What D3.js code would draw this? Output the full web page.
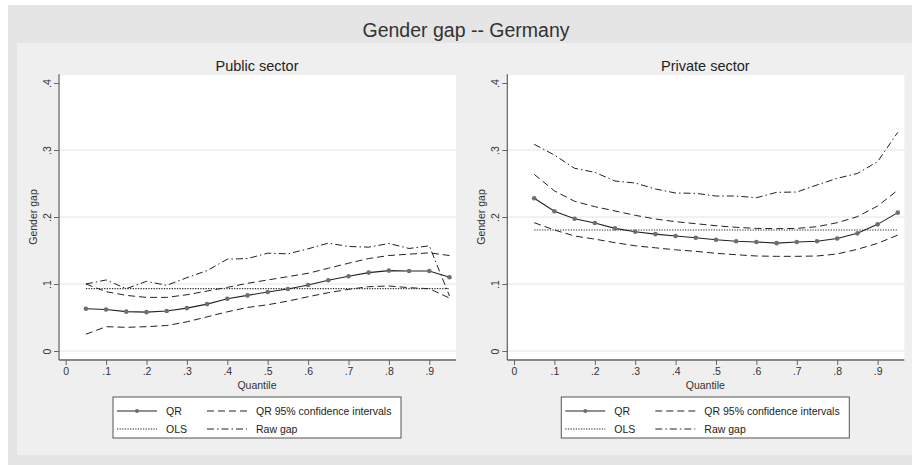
<!DOCTYPE html>
<html>
<head>
<meta charset="utf-8">
<script src="https://cdn.jsdelivr.net/npm/d3@7"></script>
<style>
  body { margin: 0; background: #fff; }
  svg { display: block; font-family: "Liberation Sans", Arial, sans-serif; }
</style>
</head>
<body>
<svg id="chart" width="912" height="465"></svg>
<script>
// quantiles .05 ... .95
const quantiles = [.05, .1, .15, .2, .25, .3, .35, .4, .45, .5, .55, .6, .65, .7, .75, .8, .85, .9, .95];
const xTicks = [0, .1, .2, .3, .4, .5, .6, .7, .8, .9];
const xTickLabels = ['0', '.1', '.2', '.3', '.4', '.5', '.6', '.7', '.8', '.9'];
const yTicks = [0, .1, .2, .3, .4];
const yTickLabels = ['0', '.1', '.2', '.3', '.4'];

// Public sector
const publicQR = [.063, .062, .0587, .058, .0597, .064, .070, .078, .083, .088, .0925, .0985, .1055, .1115, .117, .120, .1195, .1195, .110];
const publicUpper = [.100, .0885, .083, .080, .080, .084, .0895, .095, .101, .106, .111, .116, .1235, .131, .138, .1425, .1445, .1465, .1425];
const publicLower = [.025, .0363, .0353, .0363, .038, .0435, .051, .0585, .065, .069, .0745, .081, .087, .092, .096, .097, .0945, .093, .079];
const publicRaw = [.100, .106, .093, .104, .098, .1095, .120, .137, .138, .146, .145, .1525, .161, .156, .155, .1605, .153, .157, .082];
const publicOLS = .093;

// Private sector
const privateQR = [.228, .2085, .1975, .191, .183, .178, .1745, .1716, .169, .166, .1637, .1627, .161, .1627, .1637, .168, .1756, .189, .2065];
const privateUpper = [.2637, .239, .2234, .2154, .209, .2025, .197, .193, .190, .187, .1846, .183, .1826, .183, .1855, .1915, .2005, .2164, .240];
const privateLower = [.1915, .1806, .1716, .167, .1617, .157, .154, .151, .1488, .1458, .1437, .1418, .1413, .1413, .1418, .1448, .1518, .1607, .173];
const privateRaw = [.3085, .2925, .2727, .2667, .2537, .2507, .2418, .2358, .2353, .2313, .2313, .2288, .2368, .2373, .2478, .2577, .265, .2826, .3264];
const privateOLS = .1806;

const panels = [
  { title: 'Public sector', dx: 0, qr: publicQR, upper: publicUpper, lower: publicLower, raw: publicRaw, ols: publicOLS },
  { title: 'Private sector', dx: 448.3, qr: privateQR, upper: privateUpper, lower: privateLower, raw: privateRaw, ols: privateOLS }
];

const svg = d3.select('#chart');

// outer frame + inner graph region
svg.append('rect').attr('x', 8).attr('y', 5).attr('width', 904).attr('height', 460).attr('fill', '#e5e5e5');
svg.append('rect').attr('x', 17).attr('y', 43).attr('width', 895).attr('height', 412).attr('fill', '#efefef');

svg.append('text')
  .attr('x', 466).attr('y', 37)
  .attr('text-anchor', 'middle')
  .attr('font-size', '19.5px')
  .attr('fill', '#333')
  .text('Gender gap -- Germany');

const dashCI = '7,4';
const dashRaw = '7,3,1.5,3';
const dashOLS = '1.3,1.3';

panels.forEach(p => {
  const g = svg.append('g').attr('transform', `translate(${p.dx},0)`);
  const x = d3.scaleLinear().domain([0, 1]).range([65.7, 469.7]);
  const y = d3.scaleLinear().domain([0, .4]).range([351, 83]);

  g.append('rect').attr('x', 58).attr('y', 75).attr('width', 398).attr('height', 284).attr('fill', '#fff');

  g.append('text')
    .attr('x', 257).attr('y', 71)
    .attr('text-anchor', 'middle')
    .attr('font-size', '14.5px')
    .attr('fill', '#222')
    .text(p.title);

  // gridlines
  g.append('g').selectAll('line')
    .data(yTicks.filter(d => d < .4))
    .join('line')
    .attr('x1', 59).attr('x2', 456)
    .attr('y1', d => y(d)).attr('y2', d => y(d))
    .attr('stroke', '#e4e4e4').attr('stroke-width', 1);

  // y axis
  const yAxis = g.append('g')
    .attr('transform', 'translate(59,0)')
    .call(d3.axisLeft(y).tickValues(yTicks).tickFormat((d, i) => yTickLabels[i]).tickSize(5).tickSizeOuter(0));
  yAxis.select('.domain').attr('stroke', '#666').attr('stroke-width', 1.3)
    .attr('d', `M0,${y(.413)}V360`);
  yAxis.selectAll('.tick line').attr('stroke', '#666');
  yAxis.selectAll('.tick text')
    .attr('font-size', '10.5px')
    .attr('fill', '#333')
    .attr('font-family', '"Liberation Sans", Arial, sans-serif')
    .attr('text-anchor', 'middle')
    .attr('x', 0).attr('dy', 0)
    .attr('transform', 'translate(-8,0) rotate(-90)');

  g.append('text')
    .attr('transform', `translate(37,${y(.2)}) rotate(-90)`)
    .attr('text-anchor', 'middle')
    .attr('font-size', '10.5px')
    .attr('fill', '#333')
    .text('Gender gap');

  // x axis
  const xAxis = g.append('g')
    .attr('transform', 'translate(0,360)')
    .call(d3.axisBottom(x).tickValues(xTicks).tickFormat((d, i) => xTickLabels[i]).tickSize(5).tickSizeOuter(0));
  xAxis.select('.domain').attr('stroke', '#666').attr('stroke-width', 1.3)
    .attr('d', 'M59,0H456');
  xAxis.selectAll('.tick line').attr('stroke', '#666');
  xAxis.selectAll('.tick text')
    .attr('font-size', '10.5px')
    .attr('fill', '#333')
    .attr('font-family', '"Liberation Sans", Arial, sans-serif')
    .attr('y', 8);

  g.append('text')
    .attr('x', 257).attr('y', 389)
    .attr('text-anchor', 'middle')
    .attr('font-size', '10.5px')
    .attr('fill', '#333')
    .text('Quantile');

  const line = d3.line().x((d, i) => x(quantiles[i])).y(d => y(d));

  g.append('path').attr('d', line(p.upper)).attr('fill', 'none').attr('stroke', '#222').attr('stroke-width', 1).attr('stroke-dasharray', dashCI);
  g.append('path').attr('d', line(p.lower)).attr('fill', 'none').attr('stroke', '#222').attr('stroke-width', 1).attr('stroke-dasharray', dashCI);
  g.append('path').attr('d', line(p.raw)).attr('fill', 'none').attr('stroke', '#222').attr('stroke-width', 1).attr('stroke-dasharray', dashRaw);
  g.append('line')
    .attr('x1', x(quantiles[0])).attr('x2', x(quantiles[quantiles.length - 1]))
    .attr('y1', y(p.ols)).attr('y2', y(p.ols))
    .attr('stroke', '#333').attr('stroke-width', 1.2).attr('stroke-dasharray', dashOLS);
  g.append('path').attr('d', line(p.qr)).attr('fill', 'none').attr('stroke', '#222').attr('stroke-width', 1.1);
  g.append('g').selectAll('circle')
    .data(p.qr)
    .join('circle')
    .attr('cx', (d, i) => x(quantiles[i]))
    .attr('cy', d => y(d))
    .attr('r', 2.3)
    .attr('fill', '#6e6e6e');

  // legend
  const lg = g.append('g').attr('transform', 'translate(113,397)');
  lg.append('rect').attr('width', 288).attr('height', 41).attr('fill', '#fff').attr('stroke', '#555').attr('stroke-width', 1);
  const items = [
    { label: 'QR', cx: 4, cy: 14, dash: null, marker: true },
    { label: 'QR 95% confidence intervals', cx: 94, cy: 14, dash: dashCI },
    { label: 'OLS', cx: 4, cy: 32, dash: dashOLS },
    { label: 'Raw gap', cx: 94, cy: 32, dash: dashRaw }
  ];
  items.forEach(it => {
    lg.append('line')
      .attr('x1', it.cx).attr('x2', it.cx + 40)
      .attr('y1', it.cy).attr('y2', it.cy)
      .attr('stroke', '#222').attr('stroke-width', 1)
      .attr('stroke-dasharray', it.dash);
    if (it.marker) {
      lg.append('circle').attr('cx', it.cx + 20).attr('cy', it.cy).attr('r', 2).attr('fill', '#6e6e6e');
    }
    lg.append('text')
      .attr('x', it.cx + 49).attr('y', it.cy + 4)
      .attr('font-size', '10.5px')
      .attr('fill', '#222')
      .text(it.label);
  });
});
</script>
</body>
</html>
